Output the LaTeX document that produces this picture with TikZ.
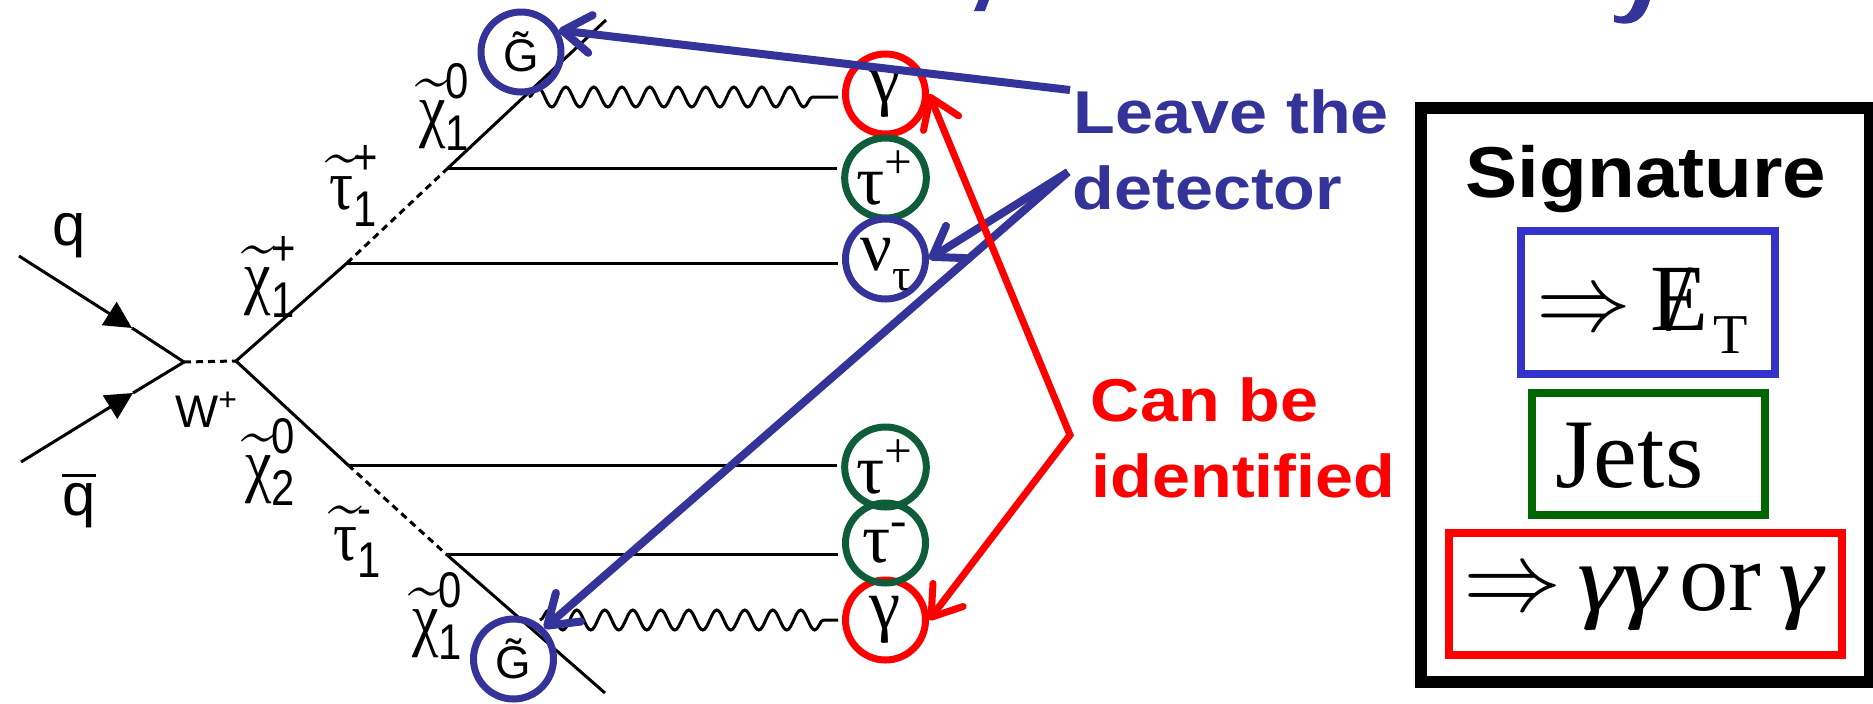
\documentclass[tikz,border=0pt]{standalone}
\usepackage{fix-cm}
\usepackage{amsmath}
\usepackage{fontspec}
\setmainfont{Liberation Serif}
\setsansfont{Liberation Sans}
\newfontfamily\wordfont[FakeStretch=1.13]{Liberation Sans}
\newfontfamily\sigfont[FakeStretch=1.085]{Liberation Sans}
\newfontfamily\gamfont[FakeStretch=1.2]{Liberation Serif}
\usepackage{tikz}
\usetikzlibrary{arrows.meta, backgrounds, decorations.pathmorphing, shapes.geometric}

\definecolor{leaveblue}{HTML}{333399}
\definecolor{tauGreen}{HTML}{0F5C3A}
\definecolor{boxblue}{HTML}{3333CC}
\definecolor{boxgreen}{HTML}{006600}

\newcommand{\fsz}[1]{\fontsize{#1}{#1}\selectfont}
\newcommand{\spart}[3]{\scalebox{1}[1.2]{$\widetilde{\text{#1}}^{\text{\sffamily #2}}_{\text{\sffamily #3}}$}}

\begin{document}
\begin{tikzpicture}[
    fermion/.style={line width=0.03cm, black},
    scalar/.style={line width=0.03cm, black, dash pattern=on 0.07cm off 0.05cm},
    photon/.style={line width=0.03cm, black, decorate, decoration={snake, segment length=0.28cm, amplitude=0.1cm, post length=0.16cm}},
    inquark/.style={fermion, -{Triangle[length=0.27cm, width=0.27cm]}},
    final/.style={ellipse, draw=#1, line width=0.07cm, minimum width=0.8cm, minimum height=0.8cm, inner sep=0pt, font=\fsz{20}},
    gravitino/.style={final=leaveblue, font=\sffamily\fsz{13}},
    plabel/.style={inner sep=0pt, font=\fsz{17}},
    qlabel/.style={inner sep=0pt, font=\sffamily\fsz{17}},
    word/.style={anchor=base west, inner sep=0pt, text=#1, font=\wordfont\bfseries\fsz{17.2}},
    leave/.style={-{Straight Barb[length=0.28cm, width=0.38cm, round]}, line width=0.08cm, color=leaveblue},
    ident/.style={{Straight Barb[length=0.28cm, width=0.38cm, round]}-{Straight Barb[length=0.28cm, width=0.38cm, round]}, line width=0.07cm, color=red, line join=miter},
    sigbox/.style={rectangle, draw=#1, line width=0.08cm, inner sep=0pt, font=\fsz{27}},
]
\useasboundingbox (0, 0) rectangle (18.73, 7.03);

% ---- Final state circles ----
\node[gravitino] (gtop) at (5.21, 6.51) {\~G};
\node[gravitino] (gbot) at (5.135, 0.44) {\~G};
\node[final=red] (gam1) at (8.855, 6.09) {γ};
\node[final=tauGreen] (taup1) at (8.855, 5.25) {τ\textsuperscript{+}};
\node[final=leaveblue] (nu) at (8.855, 4.44) {\raisebox{-0.16em}[0pt][0pt]{\makebox[0pt]{ν\raisebox{-0.29em}{\fsz{13}τ}}}};
\node[final=red] (gam2) at (8.855, 0.83) {γ};
\node[final=tauGreen] (taup2) at (8.855, 2.36) {τ\textsuperscript{+}};
\node[final=tauGreen] (taum) at (8.855, 1.60) {τ\textsuperscript{-}};

% ---- Vertices ----
\coordinate (qin) at (0.19, 4.47);
\coordinate (qmid) at (1.32, 3.75);
\coordinate (qbarin) at (0.21, 2.41);
\coordinate (qbarmid) at (1.33, 3.10);
\coordinate (vl) at (1.84, 3.41);
\coordinate (vr) at (2.36, 3.42);
\coordinate (u1) at (3.47, 4.40);
\coordinate (u2) at (4.48, 5.35);
\coordinate (u3) at (6.06, 6.83);
\coordinate (uph) at (5.29, 6.06);
\coordinate (d1) at (3.48, 2.38);
\coordinate (d2) at (4.46, 1.49);
\coordinate (d3) at (6.05, 0.10);
\coordinate (dph) at (5.40, 0.83);
\coordinate (leavetop) at (10.70, 6.13);
\coordinate (leavefrom) at (10.68, 5.31);
\coordinate (identfrom) at (10.70, 2.68);

% ---- Feynman lines ----
\begin{scope}[on background layer]
  \draw[inquark] (qin) -- (qmid);
  \draw[fermion] (qmid) -- (vl);
  \draw[inquark] (qbarin) -- (qbarmid);
  \draw[fermion] (qbarmid) -- (vl);
  \draw[scalar] (vl) -- (vr);
  \draw[fermion] (vr) -- (u1);
  \draw[scalar] (u1) -- (u2);
  \draw[fermion] (u2) -- (u3);
  \draw[fermion] (vr) -- (d1);
  \draw[scalar] (d1) -- (d2);
  \draw[fermion] (d2) -- (d3);
  \draw[fermion, shorten >=0.04cm] (u1) -- (u1 -| nu.west);
  \draw[fermion, shorten >=0.04cm] (u2) -- (u2 -| taup1.west);
  \draw[fermion, shorten >=0.04cm] (d1) -- (d1 -| taup2.west);
  \draw[fermion, shorten >=0.04cm] (d2) -- (d2 -| taum.west);
  \draw[photon, shorten >=0.04cm] (uph) -- (uph -| gam1.west);
  \draw[photon, shorten >=0.04cm] (dph) -- (dph -| gam2.west);
\end{scope}

% ---- Particle labels ----
\node[qlabel] (q) at (0.69, 4.67) {q};
\node[qlabel] (qbar) at (0.79, 2.03) {$\overline{\text{\sffamily q}}$};
\node[qlabel, font=\sffamily\fsz{13}] (w) at (2.07, 2.93) {W\textsuperscript{+}};
\node[plabel] (chi1) at (4.45, 5.96) {\spart{χ}{0}{1}};
\node[plabel] (stau1) at (3.55, 5.17) {\spart{τ}{+}{1}};
\node[plabel] (chip) at (2.71, 4.26) {\spart{χ}{+}{1}};
\node[plabel] (chi2) at (2.71, 2.41) {\spart{χ}{0}{2}};
\node[plabel] (stau2) at (3.58, 1.61) {\spart{τ}{-}{1}};
\node[plabel] (chi3) at (4.38, 0.87) {\spart{χ}{0}{1}};

% ---- Callouts ----
\node[word=leaveblue] (leavetxt) at (10.73, 5.70) {Leave the};
\node[word=leaveblue] (dettxt) at (10.72, 4.94) {detector};
\node[word=red] (cantxt) at (10.90, 2.82) {Can be};
\node[word=red] (idtxt) at (10.91, 2.06) {identified};

\draw[leave] (leavetop) -- (gtop.30);
\draw[leave] (leavefrom) -- (nu.east);
\draw[leave] (leavefrom) -- (gbot.45);
\draw[ident] (gam1.east) -- (identfrom) -- (gam2.east);

% ---- Cropped title pieces ----
\fill[leaveblue] (9.74, 6.92) -- (9.85, 6.92) -- (9.89, 7.03) -- (9.785, 7.03) -- cycle;
\fill[leaveblue] (16.35, 7.03) .. controls (16.30, 6.88) and (16.25, 6.84) .. (16.14, 6.88) -- (16.14, 6.81) .. controls (16.32, 6.76) and (16.44, 6.82) .. (16.50, 7.03) -- cycle;

% ---- Signature box ----
\node[rectangle, draw=black, line width=0.12cm, minimum width=4.49cm, minimum height=5.74cm, inner sep=0pt] (sigframe) at (16.455, 3.08) {};
\node[anchor=base, inner sep=0pt, font=\sigfont\bfseries\fsz{20.5}] (sigtxt) at (16.46, 5.06) {Signature};
\node[sigbox=boxblue, minimum width=2.54cm, minimum height=1.43cm] (metbox) at (16.48, 4.005) {\raisebox{-0.275cm}[0pt][0pt]{$\Rightarrow$\hspace{0.2em}\rlap{E}\hspace{0.17em}\rlap{/}\hspace{0.441em}\hspace{0.05em}\raisebox{-0.25em}{\fsz{16}T}\hspace{0.12cm}}};
\node[sigbox=boxgreen, minimum width=2.33cm, minimum height=1.22cm] (jetbox) at (16.485, 2.49) {\raisebox{-0.33cm}[0pt][0pt]{\fsz{28}Jets\hspace{0.38cm}}};
\node[sigbox=red, minimum width=3.93cm, minimum height=1.22cm] (gambox) at (16.455, 1.09) {\raisebox{-0.16cm}[0pt][0pt]{\fsz{28}$\Rightarrow$\hspace{0.15em}{\gamfont\fsz{27}\itshape γγ}\hspace{0.13em}or\hspace{0.17em}{\gamfont\fsz{27}\itshape γ}\hspace{0.04cm}}};

\end{tikzpicture}
\end{document}
